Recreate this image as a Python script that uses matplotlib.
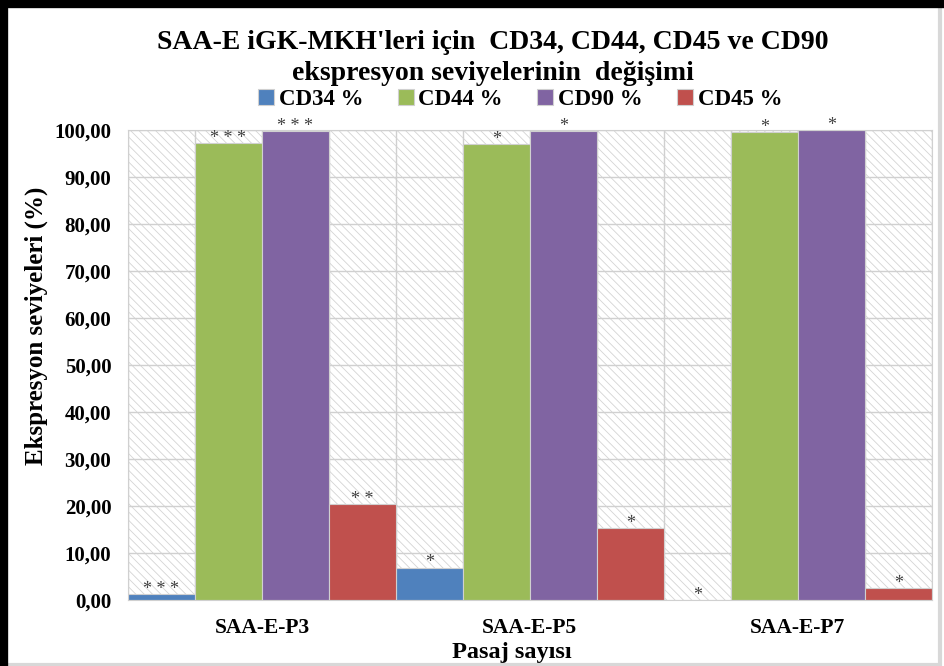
import matplotlib
matplotlib.use("Agg")
import matplotlib.pyplot as plt
import numpy as np
from matplotlib.patches import Rectangle

plt.rcParams['font.family'] = ['Liberation Serif', 'DejaVu Serif']
plt.rcParams['font.weight'] = 'bold'
plt.rcParams['hatch.linewidth'] = 0.6
plt.rcParams['hatch.color'] = '#d4d4d4'

passages = ['SAA-E-P3', 'SAA-E-P5', 'SAA-E-P7']
markers = ['CD34 %', 'CD44 %', 'CD90 %', 'CD45 %']
cd34 = [1.2, 6.9, 0.0]
cd44 = [97.2, 96.9, 99.6]
cd90 = [99.8, 99.8, 100.0]
cd45 = [20.4, 15.3, 2.5]
stars34 = ['***', '*', '*']
stars44 = ['***', '*', '*']
stars90 = ['***', '*', '*']
stars45 = ['**', '*', '*']
colors = ['#4f81bd', '#9bbb59', '#8064a2', '#c0504d']

series = [cd34, cd44, cd90, cd45]
stars = [stars34, stars44, stars90, stars45]

fig = plt.figure(figsize=(9.44, 6.66), dpi=100)
ax = fig.add_axes([0.1356, 0.099, 0.8514, 0.706])

x = np.arange(len(passages))
w = 0.25
ax.set_xlim(-0.5, len(passages) - 0.5)
ax.set_ylim(0, 100)

# hatched background
ax.add_patch(Rectangle((0, 0), 1, 1, transform=ax.transAxes, facecolor='white',
                       hatch='\\\\\\\\', edgecolor='#d4d4d4', linewidth=0, zorder=0))

# grid
for yv in np.arange(10, 101, 10):
    ax.axhline(yv, color='#d0d0d0', lw=1.0, zorder=1)
for xv in np.arange(-0.5, len(passages) - 0.49, w):
    ax.axvline(xv, color='#d0d0d0', lw=1.0, zorder=1)

for i, (vals, st) in enumerate(zip(series, stars)):
    pos = x - 0.375 + i * w
    ax.bar(pos, vals, width=w, color=colors[i], edgecolor='#d0d0d0', linewidth=0.8,
           label=markers[i], zorder=2)
    for p, v, s in zip(pos, vals, st):
        ax.text(p, v + 1.0, ' '.join(s), ha='center', va='center', fontsize=13,
                fontweight='normal', color='#404040', zorder=3)

for sp in ax.spines.values():
    sp.set_color('#d0d0d0')

ax.set_yticks(np.arange(0, 101, 10))
ax.yaxis.set_major_formatter(matplotlib.ticker.FuncFormatter(lambda v, p: ('%.2f' % v).replace('.', ',')))
ax.set_xticks(x)
ax.set_xticklabels(passages)
ax.tick_params(axis='y', length=0, labelsize=15, pad=12)
ax.tick_params(axis='x', length=0, labelsize=15.5, pad=13)
for lbl in ax.get_xticklabels() + ax.get_yticklabels():
    lbl.set_fontweight('bold')

ax.set_ylabel('Ekspresyon seviyeleri (%)', fontsize=18, fontweight='bold')
ax.yaxis.set_label_coords(-0.099, 0.583)
ax.set_xlabel('Pasaj sayısı', fontsize=17.5, fontweight='bold')
ax.xaxis.set_label_coords(0.478, -0.09)

fig.text(0.522, 0.913, "SAA-E iGK-MKH'leri için  CD34, CD44, CD45 ve CD90\nekspresyon seviyelerinin  değişimi",
         ha='center', va='center', fontsize=20, fontweight='bold', linespacing=1.3)

ax.legend(loc='center', bbox_to_anchor=(0.551, 0.851), bbox_transform=fig.transFigure,
          ncol=4, frameon=False, handlelength=0.7, handleheight=0.7,
          handletextpad=0.2, columnspacing=1.5, prop={'weight': 'bold', 'size': 16.5})

# outer frame
fig.add_artist(Rectangle((0.002, 0.002), 0.994, 0.994, transform=fig.transFigure,
                         fill=False, edgecolor='#d8d8d8', linewidth=3))
fig.add_artist(plt.Line2D([0.004, 0.004], [0.004, 0.996], transform=fig.transFigure,
                          color='black', lw=6))
fig.add_artist(plt.Line2D([0.004, 0.996], [0.994, 0.994], transform=fig.transFigure,
                          color='black', lw=6))

fig.savefig('out.png', dpi=100)
